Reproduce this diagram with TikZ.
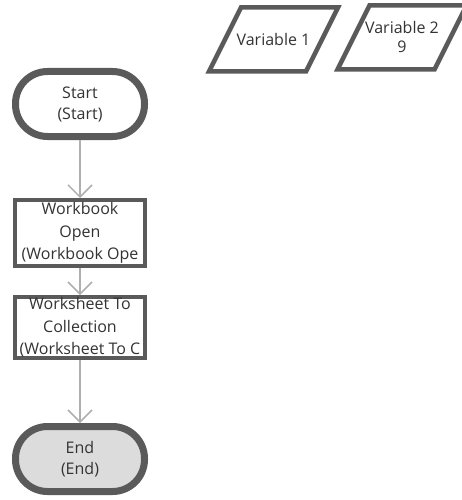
\documentclass[tikz,border=0pt]{standalone}
\usepackage{fontspec}
\setmainfont{Open Sans}
\usetikzlibrary{positioning, arrows.meta}
\definecolor{edge}{RGB}{90, 90, 90}
\definecolor{flow}{RGB}{175, 175, 175}
\definecolor{endfill}{RGB}{220, 220, 220}

\begin{document}
\begin{tikzpicture}[
    x=1pt, y=-1pt,
    every node/.style={font=\fontsize{16}{21}\selectfont, text=black!80},
    terminal/.style={rectangle, rounded corners=32pt, draw=edge, line width=7pt,
                     fill=white, minimum width=129pt, minimum height=65pt,
                     inner sep=0pt, align=center},
    action/.style={rectangle, draw=edge, line width=4pt, fill=white,
                   minimum width=130pt, minimum height=66pt,
                   inner sep=0pt, align=center,
                   font=\fontsize{16}{22.5}\selectfont},
    varbox/.style={inner sep=0pt, align=center, font=\fontsize{16}{19}\selectfont},
    varline/.style={draw=edge, line width=4.5pt, line join=miter},
    arr/.style={-{Straight Barb[length=12pt, width=24pt]}, line width=1.5pt, draw=flow}
]
\useasboundingbox (0,0) rectangle (462,500);

% Variables
\node[varbox] (var1) at (273.5,39.5) {Variable 1};
\node[varbox] (var2) at (402,37.5) {Variable 2\\9};
\foreach \v in {var1,var2}
  \draw[varline, shift={(\v.center)}] (-32.5,-32) -- (64.5,-32) -- (32.5,32) -- (-64.5,32) -- cycle;

% Flow
\node[terminal] (start) at (80,104) {Start\\(Start)};
\node[action, below=58pt of start] (wbopen) {Workbook\\Open\\(Workbook Ope};
\node[action, minimum height=61pt, below=27pt of wbopen] (wscoll) {Worksheet To\\Collection\\(Worksheet To C};
\node[terminal, fill=endfill, below=63pt of wscoll] (stop) {End\\(End)};

% Arrows
\draw[arr] (start) -- (wbopen);
\draw[arr] (wbopen) -- (wscoll);
\draw[arr] (wscoll) -- (stop);

\end{tikzpicture}
\end{document}
